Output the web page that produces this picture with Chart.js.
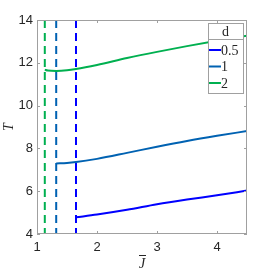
<!DOCTYPE html>
<html>
<head>
<meta charset="utf-8">
<script src="https://cdn.jsdelivr.net/npm/chart.js@4.4.1/dist/chart.umd.min.js"></script>
<style>
    html, body { margin: 0; padding: 0; background: #fff; }
    #wrap { width: 273px; height: 272px; }
</style>
</head>
<body>
<div id="wrap"><canvas id="chart" width="273" height="272"></canvas></div>
<script>
// legend values of d and their colours
const dLabels = ["0.5", "1", "2"];
const dColors = ["#0000ff", "#0062b2", "#00b050"];

// curve samples: J values and T values
const jHalf = [1.65, 2, 2.5, 3, 3.5, 4, 4.5];
const tHalf = [4.78, 4.91, 5.13, 5.39, 5.61, 5.81, 6.03];

const jOne = [1.32, 1.5, 1.65, 2, 2.5, 3, 3.5, 4, 4.5];
const tOne = [7.30, 7.32, 7.36, 7.51, 7.79, 8.08, 8.35, 8.59, 8.81];

const jTwo = [1.13, 1.18, 1.32, 1.5, 1.65, 2, 2.5, 3, 3.5, 4, 4.5];
const tTwo = [11.68, 11.64, 11.62, 11.65, 11.71, 11.90, 12.22, 12.51, 12.78, 13.03, 13.27];

// critical J for each d (dashed verticals)
const jCritical = [1.65, 1.32, 1.13];

const xTicks = [1, 2, 3, 4];
const yTicks = [4, 6, 8, 10, 12, 14];

const toPoints = (xs, ys) => xs.map((x, i) => ({ x: x, y: ys[i] }));

const curveSets = [[jHalf, tHalf], [jOne, tOne], [jTwo, tTwo]].map((s, i) => ({
    label: dLabels[i],
    data: toPoints(s[0], s[1]),
    borderColor: dColors[i],
    borderWidth: 2,
    pointRadius: 0,
    tension: 0.4,
    cubicInterpolationMode: "monotone",
    fill: false
}));

const dashSets = jCritical.map((j, i) => ({
    label: "crit " + dLabels[i],
    data: [{ x: j, y: yTicks[yTicks.length - 1] }, { x: j, y: yTicks[0] }],
    borderColor: dColors[i],
    borderWidth: 2,
    borderDash: [8, 5],
    pointRadius: 0,
    fill: false
}));

// box, inward ticks, axis titles and the legend
const decorPlugin = {
    id: "decor",
    afterDraw(chart) {
        const ctx = chart.ctx;
        const a = chart.chartArea;
        const xs = chart.scales.x, ys = chart.scales.y;
        ctx.save();
        ctx.strokeStyle = "#a0a0a0";
        ctx.lineWidth = 1;
        ctx.strokeRect(a.left + 0.5, a.top + 0.5, a.right - a.left - 1, a.bottom - a.top - 1);
        ctx.beginPath();
        xTicks.forEach(v => {
            const px = Math.round(xs.getPixelForValue(v)) + 0.5;
            ctx.moveTo(px, a.bottom); ctx.lineTo(px, a.bottom - 3);
            ctx.moveTo(px, a.top); ctx.lineTo(px, a.top + 3);
        });
        yTicks.forEach(v => {
            const py = Math.round(ys.getPixelForValue(v)) + 0.5;
            ctx.moveTo(a.left, py); ctx.lineTo(a.left + 3, py);
            ctx.moveTo(a.right, py); ctx.lineTo(a.right - 3, py);
        });
        ctx.stroke();

        // axis titles
        ctx.fillStyle = "#262626";
        ctx.font = "italic 14px 'Liberation Serif'";
        ctx.textAlign = "center";
        ctx.textBaseline = "middle";
        const jx = (a.left + a.right) / 2;
        ctx.fillText("J", jx, 264);
        ctx.strokeStyle = "#262626";
        ctx.lineWidth = 1;
        ctx.beginPath();
        ctx.moveTo(jx - 3, 255.5); ctx.lineTo(jx + 4, 255.5);
        ctx.stroke();
        ctx.save();
        ctx.translate(9, (a.top + a.bottom) / 2);
        ctx.rotate(-Math.PI / 2);
        ctx.fillText("T", 0, 0);
        ctx.restore();

        // legend
        const lx = 208, ly = 23, lw = 35, lh = 70;
        ctx.fillStyle = "#fff";
        ctx.fillRect(lx, ly, lw, lh);
        ctx.strokeStyle = "#a0a0a0";
        ctx.lineWidth = 1;
        ctx.strokeRect(lx + 0.5, ly + 0.5, lw, lh);
        ctx.beginPath();
        ctx.moveTo(lx, ly + 16.5); ctx.lineTo(lx + lw, ly + 16.5);
        ctx.stroke();
        ctx.fillStyle = "#262626";
        ctx.font = "14px 'Liberation Serif'";
        ctx.textAlign = "center";
        ctx.fillText("d", lx + lw / 2, ly + 9);
        ctx.textAlign = "left";
        dLabels.forEach((lab, i) => {
            const y = ly + 27 + i * 16.5;
            ctx.strokeStyle = dColors[i];
            ctx.lineWidth = 2;
            ctx.beginPath();
            ctx.moveTo(lx + 1, y); ctx.lineTo(lx + 13, y);
            ctx.stroke();
            ctx.fillText(lab, lx + 13, y + 1);
        });
        ctx.restore();
    }
};

function initChart() {
    const ctx = document.getElementById("chart").getContext("2d");
    new Chart(ctx, {
        type: "line",
        data: { datasets: curveSets.concat(dashSets) },
        options: {
            responsive: false,
            animation: false,
            layout: { padding: { top: 20, right: 26, left: 0, bottom: 0 } },
            plugins: { legend: { display: false }, tooltip: { enabled: false } },
            scales: {
                x: {
                    type: "linear",
                    min: 1,
                    max: 4.5,
                    afterBuildTicks: s => { s.ticks = xTicks.map(v => ({ value: v })); },
                    afterFit: s => { s.height = 38; },
                    grid: { display: false, drawTicks: false },
                    border: { display: false },
                    ticks: {
                        padding: 6,
                        color: "#262626",
                        font: { family: "'Liberation Sans'", size: 13 }
                    }
                },
                y: {
                    type: "linear",
                    min: 4,
                    max: 14,
                    afterBuildTicks: s => { s.ticks = yTicks.map(v => ({ value: v })); },
                    afterFit: s => { s.width = 37; },
                    grid: { display: false, drawTicks: false },
                    border: { display: false },
                    ticks: {
                        padding: 4,
                        color: "#262626",
                        font: { family: "'Liberation Sans'", size: 13 }
                    }
                }
            }
        },
        plugins: [decorPlugin]
    });
}

document.addEventListener("DOMContentLoaded", initChart);
</script>
</body>
</html>
